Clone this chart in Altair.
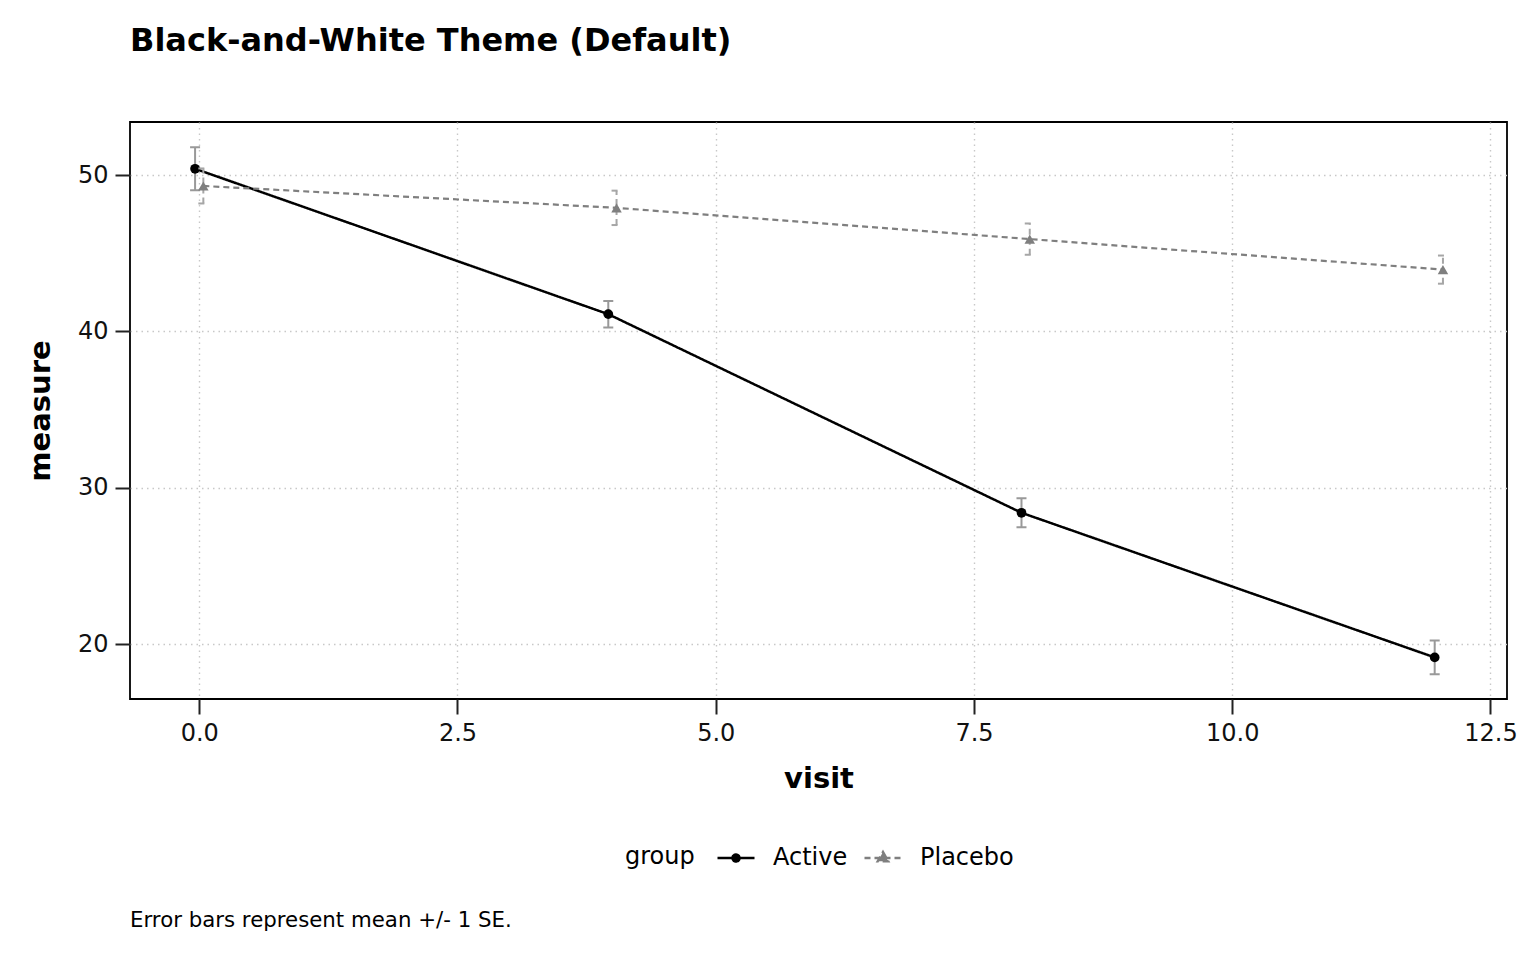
import altair as alt
import pandas as pd

# values
visits = [0, 4, 8, 12]
groups = ["Active", "Placebo"]
active_mean = [50.4, 41.1, 28.4, 19.15]
active_se = [1.37, 0.85, 0.93, 1.08]
placebo_mean = [49.3, 47.9, 45.9, 43.95]
placebo_se = [1.12, 1.1, 1.0, 0.9]

x_ticks = [0, 2.5, 5, 7.5, 10, 12.5]
y_ticks = [20, 30, 40, 50]

title_text = "Black-and-White Theme (Default)"
caption_text = "Error bars represent mean +/- 1 SE."
legend_title = "group"

df = pd.DataFrame({
    "visit": visits * 2,
    "group": ["Active"] * len(visits) + ["Placebo"] * len(visits),
    "measure": active_mean + placebo_mean,
    "se": active_se + placebo_se,
})

W, H = 1377, 577
FONT = "DejaVu Sans"

styles = {
    "Active": dict(color="black", dash=[1, 0], err="#999999", shape="circle", size=95, width=2.5),
    "Placebo": dict(color="#7f7f7f", dash=[6, 4], err="#a6a6a6", shape="triangle-up", size=110, width=2.2),
}

x_scale = alt.Scale(domain=[-0.67, 12.66], nice=False, zero=False)
y_scale = alt.Scale(domain=[16.49, 53.39], nice=False, zero=False)


def xq(field="vx"):
    return alt.X(f"{field}:Q", title="visit", scale=x_scale,
                 axis=alt.Axis(values=x_ticks, format=".1f"))


def yq(field):
    return alt.Y(f"{field}:Q", title="measure", scale=y_scale,
                 axis=alt.Axis(values=y_ticks))


base = alt.Chart(df).transform_calculate(
    vx="datum.visit + (datum.group == 'Active' ? -0.04 : 0.04)",
    lo="datum.measure - datum.se",
    hi="datum.measure + datum.se",
)

layers = []
for g in groups:
    s = styles[g]
    sub = base.transform_filter(alt.datum.group == g)
    # error bar stem and caps
    layers.append(
        sub.mark_rule(color=s["err"], strokeWidth=2, strokeDash=s["dash"])
        .encode(x=xq(), y=yq("lo"), y2="hi:Q")
    )
    for end in ["lo", "hi"]:
        layers.append(
            sub.mark_rule(color=s["err"], strokeWidth=2, strokeDash=s["dash"],
                          xOffset=-5, x2Offset=5)
            .encode(x=xq(), x2="vx:Q", y=yq(end))
        )
    layers.append(
        sub.mark_line(color=s["color"], strokeWidth=s["width"], strokeDash=s["dash"])
        .encode(x=xq(), y=yq("measure"))
    )
    layers.append(
        sub.mark_point(color=s["color"], filled=True, opacity=1,
                       shape=s["shape"], size=s["size"])
        .encode(x=xq(), y=yq("measure"))
    )

# legend-only layer: line + marker symbols
path_active = "M-1,0H1M0.19,0A0.19,0.19,0,1,1,-0.19,0A0.19,0.19,0,1,1,0.19,0Z"
path_placebo = "M-1,0H1M0,-0.32L0.28,0.17L-0.28,0.17Z"
leg = alt.Legend(title=None, orient="none", legendX=586, legendY=716,
                 direction="horizontal")
legend_layer = base.mark_point(opacity=0, strokeWidth=2.5, filled=False).encode(
    x=xq(), y=yq("measure"),
    fill=alt.Fill("group:N", scale=alt.Scale(domain=groups, range=["black", "#7f7f7f"]), legend=leg),
    stroke=alt.Stroke("group:N", scale=alt.Scale(domain=groups, range=["black", "#7f7f7f"]), legend=leg),
    shape=alt.Shape("group:N", scale=alt.Scale(domain=groups, range=[path_active, path_placebo]), legend=leg),
    strokeDash=alt.StrokeDash("group:N", scale=alt.Scale(domain=groups, range=[[1, 0], [6, 4]]), legend=leg),
)
layers.append(legend_layer)

# legend title, centred on the legend row
legend_label = alt.Chart(pd.DataFrame({"txt": [legend_title]})).mark_text(
    align="left", baseline="middle", fontSize=24, font=FONT, color="black"
).encode(x=alt.value(495), y=alt.value(735), text="txt:N")
layers.append(legend_label)

caption = alt.Chart(pd.DataFrame({"txt": [caption_text]})).mark_text(
    align="left", baseline="middle", fontSize=21.3, font=FONT, color="black"
).encode(x=alt.value(0), y=alt.value(799), text="txt:N")
layers.append(caption)

chart = (
    alt.layer(*layers)
    .properties(
        width=W,
        height=H,
        autosize=alt.AutoSizeParams(type="none"),
        padding={"left": 122, "top": 114, "right": 20, "bottom": 245},
        title=alt.TitleParams(title_text, anchor="start", frame="group", offset=64,
                              font=FONT, fontSize=32, fontWeight="bold", color="black"),
    )
    .configure_view(stroke="black", strokeWidth=1.8)
    .configure_axis(
        domain=False,
        grid=True,
        gridColor="#c8c8c8",
        gridDash=[1.5, 4],
        gridWidth=1.4,
        tickColor="#222222",
        tickSize=15,
        tickWidth=2,
        labelFont=FONT,
        labelFontSize=24,
        labelColor="#111111",
        labelPadding=7,
        titleFont=FONT,
        titleFontSize=29,
        titleFontWeight="bold",
        titleColor="black",
    )
    .configure_axisY(titlePadding=22)
    .configure_axisX(titlePadding=19)
    .configure_legend(
        labelFont=FONT,
        labelFontSize=24,
        labelColor="black",
        symbolSize=1369,
        symbolStrokeWidth=2.5,
        symbolOpacity=1,
        labelOffset=17,
        columnPadding=11,
    )
)

chart.save("out.html", embed_options={"renderer": "svg", "actions": False})
